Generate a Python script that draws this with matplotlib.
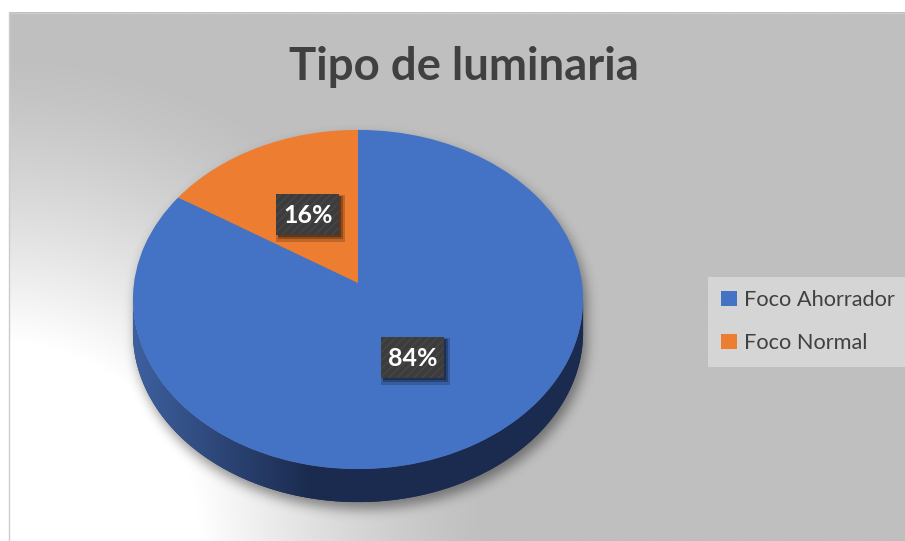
import numpy as np
import matplotlib
matplotlib.use('Agg')
import matplotlib.pyplot as plt
from matplotlib.transforms import Transform
from matplotlib.patches import Polygon, Rectangle, Patch
from matplotlib.path import Path

# ---------------- data ----------------
categories = ['Foco Ahorrador', 'Foco Normal']
values = [84, 16]
colors = ['#4472C4', '#ED7D31']
title = 'Tipo de luminaria'

# ---------------- layout (pixels) ----------------
W, H = 905, 541
CX, CY = 358.0, 283.0       # projected centre of the pie top
RX, RY, K = 224.0, 168.0, 0.0973   # tilt / perspective of the disc
DEPTH = 33.0
FONT = 'Lato'
TXT = '#404040'

plt.rcParams['font.family'] = [FONT, 'DejaVu Sans']

fig = plt.figure(figsize=(W / 100, H / 100), dpi=100)
fig.patch.set_facecolor('white')
ax = fig.add_axes([0, 0, 1, 1])


class Tilt(Transform):
    """Perspective view of a flat unit disc (pie coordinates -> pixels)."""
    input_dims = output_dims = 2
    is_separable = False
    has_inverse = False

    def __init__(self, cx, cy, rx, ry, k):
        super().__init__()
        self.cx, self.cy, self.rx, self.ry, self.k = cx, cy, rx, ry, k

    def transform_non_affine(self, values):
        v = np.asarray(values, dtype=float).reshape(-1, 2)
        s = 1.0 / (1.0 + self.k * v[:, 1])
        return np.column_stack([self.cx + self.rx * v[:, 0] * s,
                                self.cy - self.ry * v[:, 1] * s])


# ---------------- background ----------------
X0, Y0 = 9.0, 12.5
xs = np.linspace(X0, W, 600)
ys = np.linspace(Y0, H, 360)
gx, gy = np.meshgrid(xs, ys)
r = np.hypot(gx - 0.0, gy - 541.0)
f = np.clip((490.0 - r) / 290.0, 0, 1) ** 1.3
val = (191 + 64 * f) / 255.0
bg = np.dstack([val, val, val])
ax.imshow(bg, extent=(X0, W, H, Y0), aspect='auto', interpolation='bilinear', zorder=0)
ax.plot([X0, X0, W], [H, Y0, Y0], color='#cccccc', lw=1.0, zorder=0.5)

# ---------------- pie ----------------
wedges, _, autotexts = ax.pie(values, colors=colors, startangle=90, counterclock=False,
                              autopct='%1.0f%%', pctdistance=0.485,
                              wedgeprops=dict(linewidth=0))
ax.set_aspect('auto')
ax.set_xlim(0, W)
ax.set_ylim(H, 0)
ax.axis('off')

tilt = Tilt(CX, CY, RX, RY, K)
for w in wedges:
    w.set_transform(tilt + ax.transData)
    w.set_zorder(4)

# side of the disc
a0 = np.arcsin(K)
t = np.linspace(np.pi + a0, 2 * np.pi - a0, 300)
low = tilt.transform(np.column_stack([np.cos(t), np.sin(t)]))
side = np.vstack([low + [0, DEPTH], low[::-1]])
side_patch = Polygon(side, closed=True, facecolor='#1b2b4f', edgecolor='none', zorder=3)
ax.add_patch(side_patch)
sx0, sx1 = side[:, 0].min(), side[:, 0].max()
c0 = np.array([0x3e, 0x60, 0x9f]) / 255.0
c1 = np.array([0x1b, 0x2b, 0x4f]) / 255.0
xx = np.linspace(sx0, sx1, 256)
m = np.clip((xx - sx0) / (310 - sx0), 0, 1)[:, None]
grad = (c0 * (1 - m) + c1 * m)[None, :, :]
im = ax.imshow(grad, extent=(sx0, sx1, side[:, 1].max(), side[:, 1].min()),
               aspect='auto', interpolation='bilinear', zorder=3.1)
clipper = Polygon(side, closed=True, facecolor='none', edgecolor='none',
                  transform=ax.transData)
ax.add_patch(clipper)
im.set_clip_path(clipper)

# soft shadow under the pie
tt = np.linspace(0, 2 * np.pi, 400)
top = tilt.transform(np.column_stack([np.cos(tt), np.sin(tt)]))
px, py = np.meshgrid(np.arange(W) + 0.5, np.arange(H) + 0.5)
pts = np.column_stack([px.ravel() - 3, py.ravel() - 7])
mask = (Path(top).contains_points(pts) | Path(side).contains_points(pts)).reshape(H, W).astype(float)


def blur(a, s):
    rr = int(3 * s)
    k = np.exp(-0.5 * (np.arange(-rr, rr + 1) / s) ** 2)
    k /= k.sum()
    a = np.apply_along_axis(lambda q: np.convolve(q, k, mode='same'), 0, a)
    a = np.apply_along_axis(lambda q: np.convolve(q, k, mode='same'), 1, a)
    return a


mask = blur(mask, 6.0)
sh = np.zeros((H, W, 4))
sh[..., 3] = 0.42 * mask
ax.imshow(sh, extent=(0, W, H, 0), aspect='auto', interpolation='bilinear', zorder=2)

# ---------------- data labels ----------------
renderer = fig.canvas.get_renderer()
BW, BH = 63, 41
for at in autotexts:
    u, v = at.get_position()
    lx, ly = tilt.transform(np.array([[u, v]]))[0]
    at.set_position((lx, ly + 1))
    at.set_ha('center')
    at.set_va('center')
    at.set_color('white')
    at.set_fontweight('bold')
    at.set_fontsize(18)
    at.set_zorder(8)
    for dx, dy, al, grow in [(3, 4, 0.18, 3), (3, 3, 0.25, 1), (2, 2, 0.3, 0)]:
        ax.add_patch(Rectangle((lx - BW / 2 + dx - grow, ly - BH / 2 + dy - grow),
                               BW + 2 * grow, BH + 2 * grow, facecolor='black',
                               edgecolor='none', alpha=al, zorder=6))
    ax.add_patch(Rectangle((lx - BW / 2, ly - BH / 2), BW, BH, facecolor='#3c3c3c',
                           edgecolor='none', zorder=7))
    ax.add_patch(Rectangle((lx - BW / 2, ly - BH / 2), BW, BH, facecolor='none',
                           edgecolor='#474747', hatch='////', linewidth=0, zorder=7.1))

# ---------------- title ----------------
tt_ = ax.text(464, 80, title, ha='center', va='baseline', fontsize=30,
              fontweight='bold', color=TXT, zorder=9)
bb = tt_.get_window_extent(renderer)
tt_.set_fontsize(30 * 350.0 / bb.width)

# ---------------- legend ----------------
probe = ax.text(0, 0, categories[0], fontsize=14)
pw = probe.get_window_extent(renderer).width
probe.remove()
lfs = 14 * 152.0 / pw
handles = [Patch(facecolor=c, edgecolor='none') for c in colors]
leg = ax.legend(handles, categories, loc='upper left',
                bbox_to_anchor=(708 / W, 1 - 277 / H), bbox_transform=fig.transFigure,
                borderaxespad=0, frameon=True, fancybox=False, framealpha=1,
                facecolor='#d5d5d5', edgecolor='none', fontsize=lfs,
                handlelength=0.7, handleheight=0.7, handletextpad=0.35,
                borderpad=0.62, labelspacing=1.05, labelcolor=TXT)
leg.set_zorder(9)

fig.savefig('out.png', dpi=100, facecolor='white')
